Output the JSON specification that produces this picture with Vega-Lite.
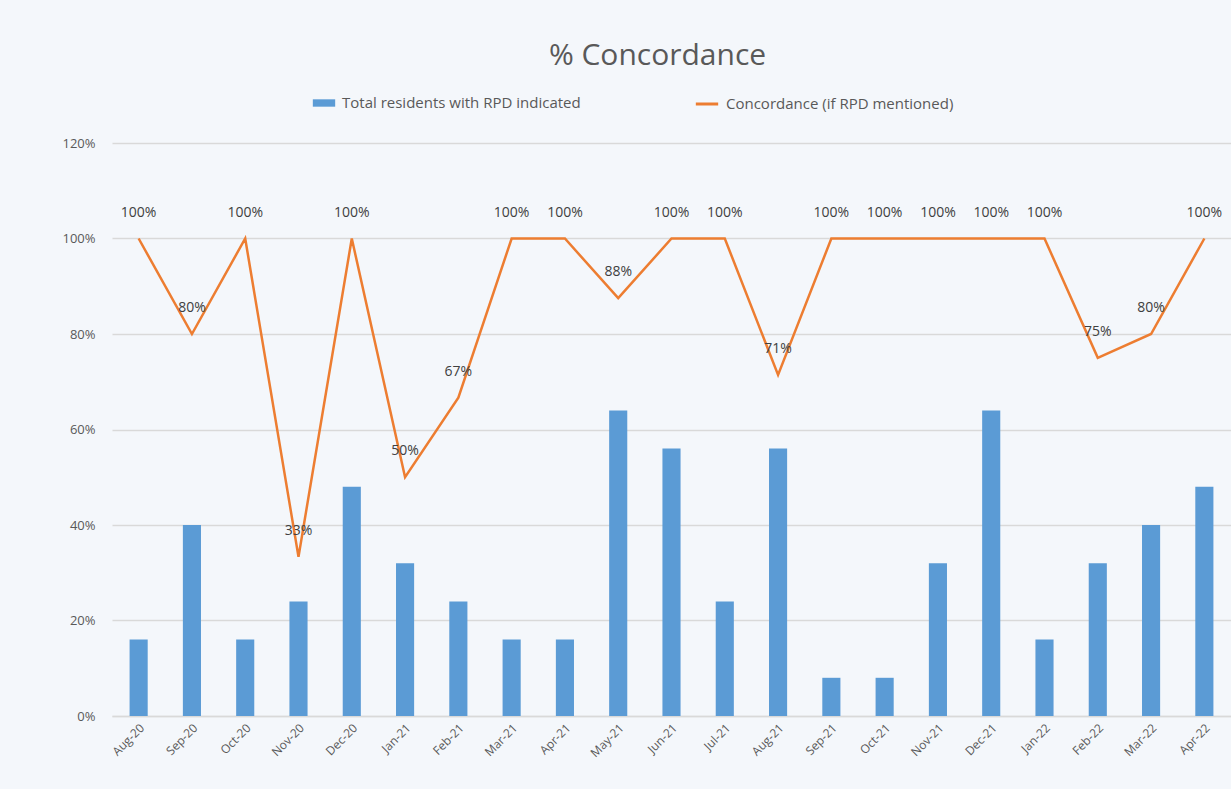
{
  "$schema": "https://vega.github.io/schema/vega-lite/v6.json",
  "width": 1119,
  "height": 573,
  "autosize": {"type": "none"},
  "padding": {"left": 112, "top": 143, "right": 0, "bottom": 73},
  "background": "#f4f7fb",
  "view": {"stroke": null},
  "title": {
    "text": "% Concordance",
    "fontSize": 30,
    "font": "Open Sans",
    "fontWeight": "normal",
    "color": "#595959",
    "anchor": "middle",
    "dx": -14,
    "offset": 20
  },
  "data": {
    "values": [
      {"month": "Aug-20", "total": 2, "conc": 1.0, "label": "100%"},
      {"month": "Sep-20", "total": 5, "conc": 0.8, "label": "80%"},
      {"month": "Oct-20", "total": 2, "conc": 1.0, "label": "100%"},
      {"month": "Nov-20", "total": 3, "conc": 0.3333, "label": "33%"},
      {"month": "Dec-20", "total": 6, "conc": 1.0, "label": "100%"},
      {"month": "Jan-21", "total": 4, "conc": 0.5, "label": "50%"},
      {"month": "Feb-21", "total": 3, "conc": 0.6667, "label": "67%"},
      {"month": "Mar-21", "total": 2, "conc": 1.0, "label": "100%"},
      {"month": "Apr-21", "total": 2, "conc": 1.0, "label": "100%"},
      {"month": "May-21", "total": 8, "conc": 0.875, "label": "88%"},
      {"month": "Jun-21", "total": 7, "conc": 1.0, "label": "100%"},
      {"month": "Jul-21", "total": 3, "conc": 1.0, "label": "100%"},
      {"month": "Aug-21", "total": 7, "conc": 0.7143, "label": "71%"},
      {"month": "Sep-21", "total": 1, "conc": 1.0, "label": "100%"},
      {"month": "Oct-21", "total": 1, "conc": 1.0, "label": "100%"},
      {"month": "Nov-21", "total": 4, "conc": 1.0, "label": "100%"},
      {"month": "Dec-21", "total": 8, "conc": 1.0, "label": "100%"},
      {"month": "Jan-22", "total": 2, "conc": 1.0, "label": "100%"},
      {"month": "Feb-22", "total": 4, "conc": 0.75, "label": "75%"},
      {"month": "Mar-22", "total": 5, "conc": 0.8, "label": "80%"},
      {"month": "Apr-22", "total": 6, "conc": 1.0, "label": "100%"}
    ]
  },
  "encoding": {
    "x": {
      "field": "month",
      "type": "ordinal",
      "sort": null,
      "scale": {"paddingInner": 0.66, "paddingOuter": 0.33},
      "axis": {
        "title": null,
        "labelAngle": -45,
        "labelFont": "Open Sans",
        "labelFontSize": 12,
        "labelColor": "#595959",
        "labelPadding": 6,
        "ticks": false,
        "domainColor": "#d9d9d9",
        "domainWidth": 1.5,
        "grid": false
      }
    }
  },
  "layer": [
    {
      "mark": {"type": "bar", "color": "#5b9bd5"},
      "encoding": {
        "y": {
          "field": "total",
          "type": "quantitative",
          "scale": {"domain": [0, 15]},
          "axis": null
        },
        "fill": {
          "datum": "Total residents with RPD indicated",
          "type": "nominal",
          "scale": {"range": ["#5b9bd5"]},
          "legend": {
            "title": null,
            "orient": "none",
            "legendX": 200,
            "legendY": -52,
            "symbolType": "M-1,-0.33H1V0.33H-1Z",
            "symbolSize": 500,
            "labelFont": "Open Sans",
            "labelFontSize": 15,
            "labelLimit": 400,
            "labelColor": "#595959",
            "labelOffset": 6
          }
        }
      }
    },
    {
      "layer": [
        {
          "mark": {"type": "line", "strokeWidth": 2.5},
          "encoding": {
            "y": {
              "field": "conc",
              "type": "quantitative",
              "scale": {"domain": [0, 1.2]},
              "axis": {
                "title": null,
                "format": ".0%",
                "values": [0, 0.2, 0.4, 0.6, 0.8, 1.0, 1.2],
                "labelFont": "Open Sans",
                "labelFontSize": 13,
                "labelColor": "#595959",
                "labelPadding": 17,
                "ticks": false,
                "domain": false,
                "grid": true,
                "gridColor": "#d9d9d9",
                "gridWidth": 1.5
              }
            },
            "stroke": {
              "datum": "Concordance (if RPD mentioned)",
              "type": "nominal",
              "scale": {"range": ["#ed7d31"]},
              "legend": {
                "title": null,
                "orient": "none",
                "legendX": 582,
                "legendY": -52,
                "symbolStrokeWidth": 3,
                "symbolSize": 500,
                "labelFont": "Open Sans",
                "labelFontSize": 15,
                "labelLimit": 400,
                "labelColor": "#595959",
                "labelOffset": 6
              }
            }
          }
        },
        {
          "mark": {
            "type": "text",
            "dy": -26,
            "font": "Open Sans",
            "fontSize": 14,
            "color": "#404040"
          },
          "encoding": {
            "y": {"field": "conc", "type": "quantitative"},
            "text": {"field": "label"}
          }
        }
      ]
    }
  ],
  "resolve": {"scale": {"y": "independent"}}
}
